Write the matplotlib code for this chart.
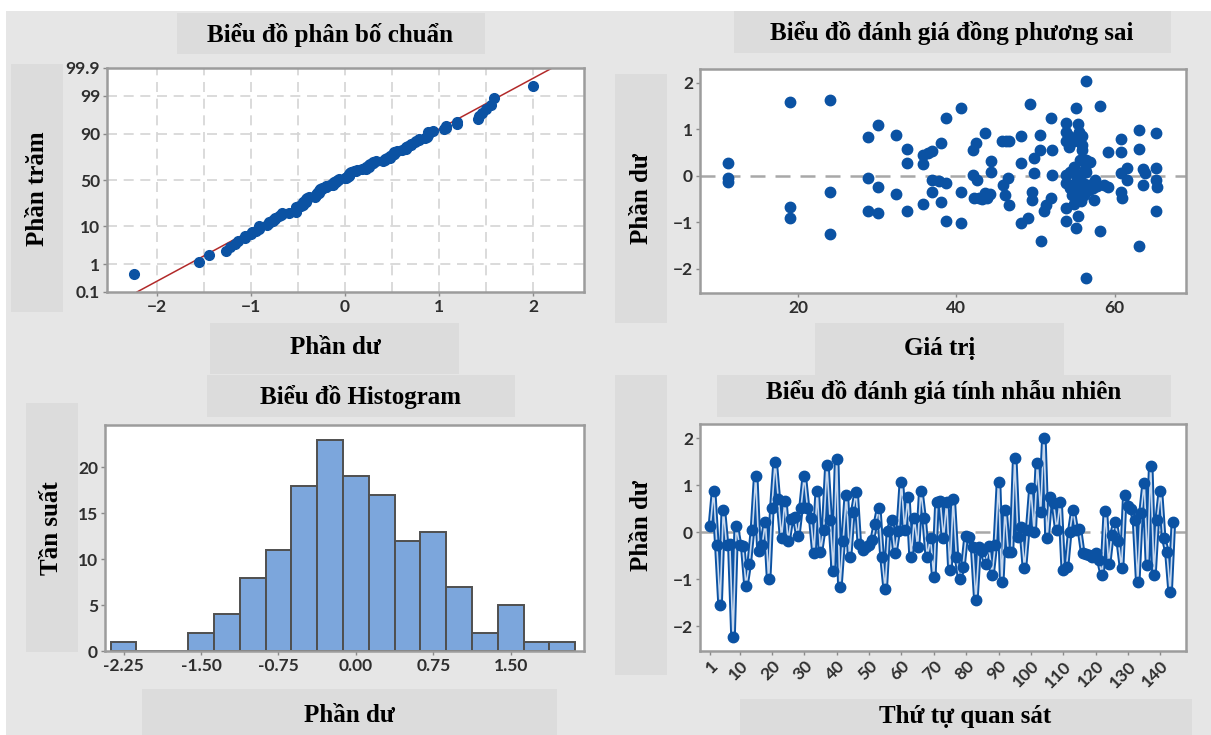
import matplotlib
matplotlib.use("Agg")
import matplotlib.pyplot as plt
from matplotlib.patches import Rectangle
from statistics import NormalDist
import numpy as np

W, H = 1211, 735

residuals = [
    0.12, 0.88, -0.27, -1.55, 0.48, -0.27, -0.25, -2.24, 0.13, -0.28,
    -0.30, -1.14, -0.68, 0.04, 1.19, -0.40, -0.28, 0.22, -1.00, 0.52,
    1.50, 0.70, -0.12, 0.67, -0.20, 0.27, 0.33, -0.08, 0.52, 1.19,
    0.52, 0.30, -0.45, 0.87, -0.42, 0.05, 1.42, 0.25, -0.83, 1.55,
    -1.17, -0.20, 0.79, -0.52, 0.43, 0.85, -0.25, -0.38, -0.32, -0.28,
    -0.16, 0.18, 0.52, -0.52, -1.22, 0.02, 0.25, -0.45, 0.02, 1.07,
    0.04, 0.74, -0.52, 0.30, -0.31, 0.88, 0.30, -0.52, -0.12, -0.95,
    0.65, 0.66, -0.13, 0.65, -0.81, 0.70, -0.52, -0.99, -0.74, -0.08,
    -0.10, -0.32, -1.45, -0.31, -0.40, -0.67, -0.30, -0.91, -0.28, 1.07,
    -1.06, 0.48, -0.42, -0.42, 1.58, -0.10, 0.10, -0.77, 0.05, 0.93,
    0.00, 1.46, 0.42, 2.00, -0.13, 0.75, 0.61, 0.04, 0.65, -0.81,
    -0.74, 0.01, 0.48, 0.04, 0.06, -0.45, -0.47, -0.49, -0.52, -0.45,
    -0.60, -0.91, 0.45, -0.67, -0.06, 0.22, -0.20, -0.77, 0.79, 0.55,
    0.50, 0.26, -1.06, 0.40, 1.05, -0.70, 1.41, -0.91, 0.26, 0.88,
    -0.13, -0.42, -1.27, 0.22,
]

# residuals versus fitted values
fitted = [
    11.1, 11.1, 11.1, 19.0, 19.0, 19.0, 24.0, 24.0, 24.0, 28.8,
    28.8, 28.8, 30.1, 30.1, 30.1, 32.4, 32.4, 33.7, 33.7, 33.7,
    35.8, 35.8, 35.8, 36.4, 36.9, 36.9, 36.9, 37.8, 38.0, 38.0,
    38.7, 38.7, 38.7, 40.6, 40.6, 40.6, 42.1, 42.1, 42.2, 42.5,
    42.6, 42.8, 43.2, 43.6, 43.6, 43.8, 44.4, 44.4, 44.2, 45.7,
    46.2, 46.7, 45.9, 46.1, 46.5, 46.7, 48.2, 48.2, 48.2, 49.1,
    49.3, 49.6, 49.8, 49.8, 49.6, 50.5, 50.5, 50.7, 51.0, 51.3,
    52.0, 52.1, 52.1, 52.0, 53.8, 53.8, 53.8, 53.8, 53.8, 53.8,
    53.8, 54.2, 54.2, 54.4, 54.4, 54.6, 54.6, 55.1, 55.1, 55.3,
    55.3, 55.8, 55.8, 55.6, 55.6, 55.6, 55.8, 56.4, 56.4, 56.4,
    56.4, 56.6, 56.9, 57.4, 57.5, 58.1, 58.1, 58.6, 59.1, 59.1,
    60.8, 60.8, 60.8, 60.8, 60.9, 61.6, 61.6, 63.0, 63.0, 63.0,
    63.6, 63.6, 63.8, 65.2, 65.2, 65.2, 65.3, 65.2, 54.9, 55.2,
    55.4, 55.0, 56.0, 56.2, 55.7, 54.9, 56.8, 57.2, 55.5, 55.9,
    54.8, 56.1, 57.8, 55.3,
]
fit_resid = [
    0.27, -0.05, -0.14, 1.60, -0.66, -0.90, 1.63, -0.35, -1.24, 0.84,
    -0.05, -0.75, 1.10, -0.23, -0.80, 0.88, -0.39, 0.57, 0.27, -0.75,
    0.44, 0.26, -0.61, 0.50, 0.54, -0.09, -0.35, -0.10, 0.70, -0.57,
    1.24, -0.16, -0.97, 1.46, -0.34, -1.02, 0.56, 0.02, -0.48, 0.70,
    -0.09, -0.48, -0.50, 0.92, -0.37, -0.48, 0.31, 0.09, -0.40, 0.75,
    0.75, 0.75, -0.19, -0.41, -0.05, -0.62, 0.85, 0.27, -1.02, -0.91,
    1.54, -0.34, 0.38, 0.06, -0.52, 0.88, 0.56, -1.41, -0.75, -0.62,
    1.24, 0.56, 0.02, -0.48, 1.13, 0.95, 0.74, 0.02, -0.16, -0.70,
    -0.98, 0.63, 0.85, 0.09, -0.27, -0.19, -0.41, 1.46, -1.13, 1.11,
    -0.87, 0.85, 0.67, 0.34, 0.02, -0.25, -0.34, 2.04, -2.20, 0.34,
    0.09, -0.19, 0.30, -0.52, -0.09, 1.51, -1.18, -0.19, 0.52, -0.23,
    0.80, 0.52, 0.06, -0.34, -0.48, 0.16, -0.09, 0.99, 0.58, -1.51,
    0.15, -0.19, 0.06, 0.93, 0.16, -0.09, -0.23, -0.75, 0.20, -0.05,
    -0.45, -0.30, -0.15, 0.15, -0.55, -0.60, -0.30, -0.25, 0.95, 0.55,
    0.75, -0.42, -0.22, -0.12,
]

# histogram (bin centres and counts)
bin_centers = [-2.25, -2.0, -1.75, -1.5, -1.25, -1.0, -0.75, -0.5, -0.25,
               0.0, 0.25, 0.5, 0.75, 1.0, 1.25, 1.5, 1.75, 2.0]
bin_counts = [1, 0, 0, 2, 4, 8, 11, 18, 23, 19, 17, 12, 13, 7, 2, 5, 1, 1]
hist_ticks = [-2.25, -1.50, -0.75, 0.00, 0.75, 1.50]

pct_ticks = [0.1, 1, 10, 50, 90, 99, 99.9]
pct_labels = ['0.1', '1', '10', '50', '90', '99', '99.9']
order_ticks = [1, 10, 20, 30, 40, 50, 60, 70, 80, 90, 100, 110, 120, 130, 140]

BLUE = '#0b52a3'
BG = '#e6e6e6'
BOX = '#dcdcdc'
SERIF = 'Liberation Serif'
TICKFONT = ['Lato', 'DejaVu Sans']

fig = plt.figure(figsize=(W / 100, H / 100), dpi=100)
fig.patch.set_facecolor('white')


def px_rect(x0, y0, x1, y1, color, z):
    fig.add_artist(Rectangle((x0 / W, 1 - y1 / H), (x1 - x0) / W, (y1 - y0) / H,
                             transform=fig.transFigure, facecolor=color,
                             edgecolor='none', zorder=z))


def px_text(x, y, s, rot=0):
    fig.text(x / W, 1 - y / H, s, ha='center', va='center', rotation=rot,
             fontfamily=SERIF, fontweight='bold', fontsize=18, color='black',
             zorder=5)


def px_axes(x0, y0, x1, y1):
    return fig.add_axes([x0 / W, 1 - y1 / H, (x1 - x0) / W, (y1 - y0) / H])


def style(ax):
    ax.set_facecolor('white')
    for s in ax.spines.values():
        s.set_color('#9c9c9c')
        s.set_linewidth(1.8)
    ax.tick_params(length=3, width=1, color='#8a8a8a', labelsize=12.5,
                   labelcolor='#2e2e2e', pad=2)
    for lab in ax.get_xticklabels() + ax.get_yticklabels():
        lab.set_fontfamily(TICKFONT)
        lab.set_fontweight('bold')


# grey page and label boxes
px_rect(6, 11, W, H, BG, -3)
boxes = [
    (177, 13, 485, 54), (11, 64, 63, 312), (210, 323, 459, 374),
    (734, 11, 1171, 53), (615, 74, 667, 323), (815, 323, 1064, 375),
    (207, 375, 515, 417), (26, 403, 78, 652), (142, 689, 557, 735),
    (717, 375, 1171, 417), (615, 375, 667, 675), (740, 699, 1192, 735),
]
for b in boxes:
    px_rect(*b, BOX, -2)

px_text(330, 35, 'Biểu đồ phân bố chuẩn')
px_text(37, 189, 'Phần trăm', 90)
px_text(335, 348, 'Phần dư')
px_text(952, 33, 'Biểu đồ đánh giá đồng phương sai')
px_text(642, 199, 'Phần dư', 90)
px_text(940, 348, 'Giá trị')
px_text(360, 397, 'Biểu đồ Histogram')
px_text(52, 528, 'Tần suất', 90)
px_text(349, 716, 'Phần dư')
px_text(944, 392, 'Biểu đồ đánh giá tính nhẫu nhiên')
px_text(642, 526, 'Phần dư', 90)
px_text(965, 717, 'Thứ tự quan sát')

nd = NormalDist()

# normal probability plot
ax1 = px_axes(107, 68, 584, 292)
r_sorted = np.sort(residuals)
n = len(r_sorted)
zq = [nd.inv_cdf((i + 1 - 0.3) / (n + 0.4)) for i in range(n)]
zlo, zhi = nd.inv_cdf(0.001), nd.inv_cdf(0.999)
mu, sd = np.mean(residuals), np.std(residuals, ddof=1)
for g in np.arange(-2, 2.01, 0.5):
    ax1.axvline(g, color='#d4d4d4', lw=1.2, ls=(0, (6, 4)), zorder=0)
for p in pct_ticks[1:-1]:
    ax1.axhline(nd.inv_cdf(p / 100), color='#d4d4d4', lw=1.2, ls=(0, (6, 4)), zorder=0)
zl = np.array([zlo, zhi])
ax1.plot(mu + sd * zl, zl, color='#b22a2a', lw=1.1, zorder=2)
ax1.plot(r_sorted, zq, 'o', ms=7, color=BLUE, zorder=3)
ax1.set_xlim(-2.53, 2.54)
ax1.set_ylim(zlo, zhi)
ax1.set_xticks([-2, -1, 0, 1, 2])
ax1.set_yticks([nd.inv_cdf(p / 100) for p in pct_ticks])
ax1.set_yticklabels(pct_labels)
style(ax1)

# residuals versus fits
ax2 = px_axes(700, 69, 1186, 293)
ax2.axhline(0, color='#a8a8a8', lw=1.8, ls=(0, (6, 4)), zorder=1)
ax2.plot(fitted, fit_resid, 'o', ms=7.5, color=BLUE, zorder=3)
ax2.set_xlim(7.6, 69)
ax2.set_ylim(-2.52, 2.3)
ax2.set_xticks([20, 40, 60])
ax2.set_yticks([-2, -1, 0, 1, 2])
style(ax2)

# histogram
ax3 = px_axes(105, 425, 584, 651)
ax3.bar(bin_centers, bin_counts, width=0.25, color='#7ca6dc',
        edgecolor='#4f4f4f', linewidth=1.4, zorder=2)
ax3.set_xlim(-2.43, 2.21)
ax3.set_ylim(0, 24.6)
ax3.set_xticks(hist_ticks)
ax3.set_xticklabels(['%.2f' % t for t in hist_ticks])
ax3.set_yticks([0, 5, 10, 15, 20])
style(ax3)

# residuals versus order
ax4 = px_axes(700, 424, 1186, 651)
obs = np.arange(1, len(residuals) + 1)
ax4.axhline(0, color='#a8a8a8', lw=1.8, ls=(0, (6, 4)), zorder=1)
ax4.plot(obs, residuals, color=BLUE, lw=4.0, zorder=2)
ax4.plot(obs, residuals, color='#c9d9ee', lw=1.2, zorder=2.1)
ax4.plot(obs, residuals, 'o', ms=7.5, color=BLUE, zorder=3)
ax4.set_xlim(-2.2, 147.9)
ax4.set_ylim(-2.53, 2.3)
ax4.set_xticks(order_ticks)
ax4.set_yticks([-2, -1, 0, 1, 2])
style(ax4)
for lab in ax4.get_xticklabels():
    lab.set_rotation(45)
    lab.set_ha('right')
    lab.set_va('top')
    lab.set_rotation_mode('anchor')

fig.savefig('out.png', dpi=100, facecolor=fig.get_facecolor())
